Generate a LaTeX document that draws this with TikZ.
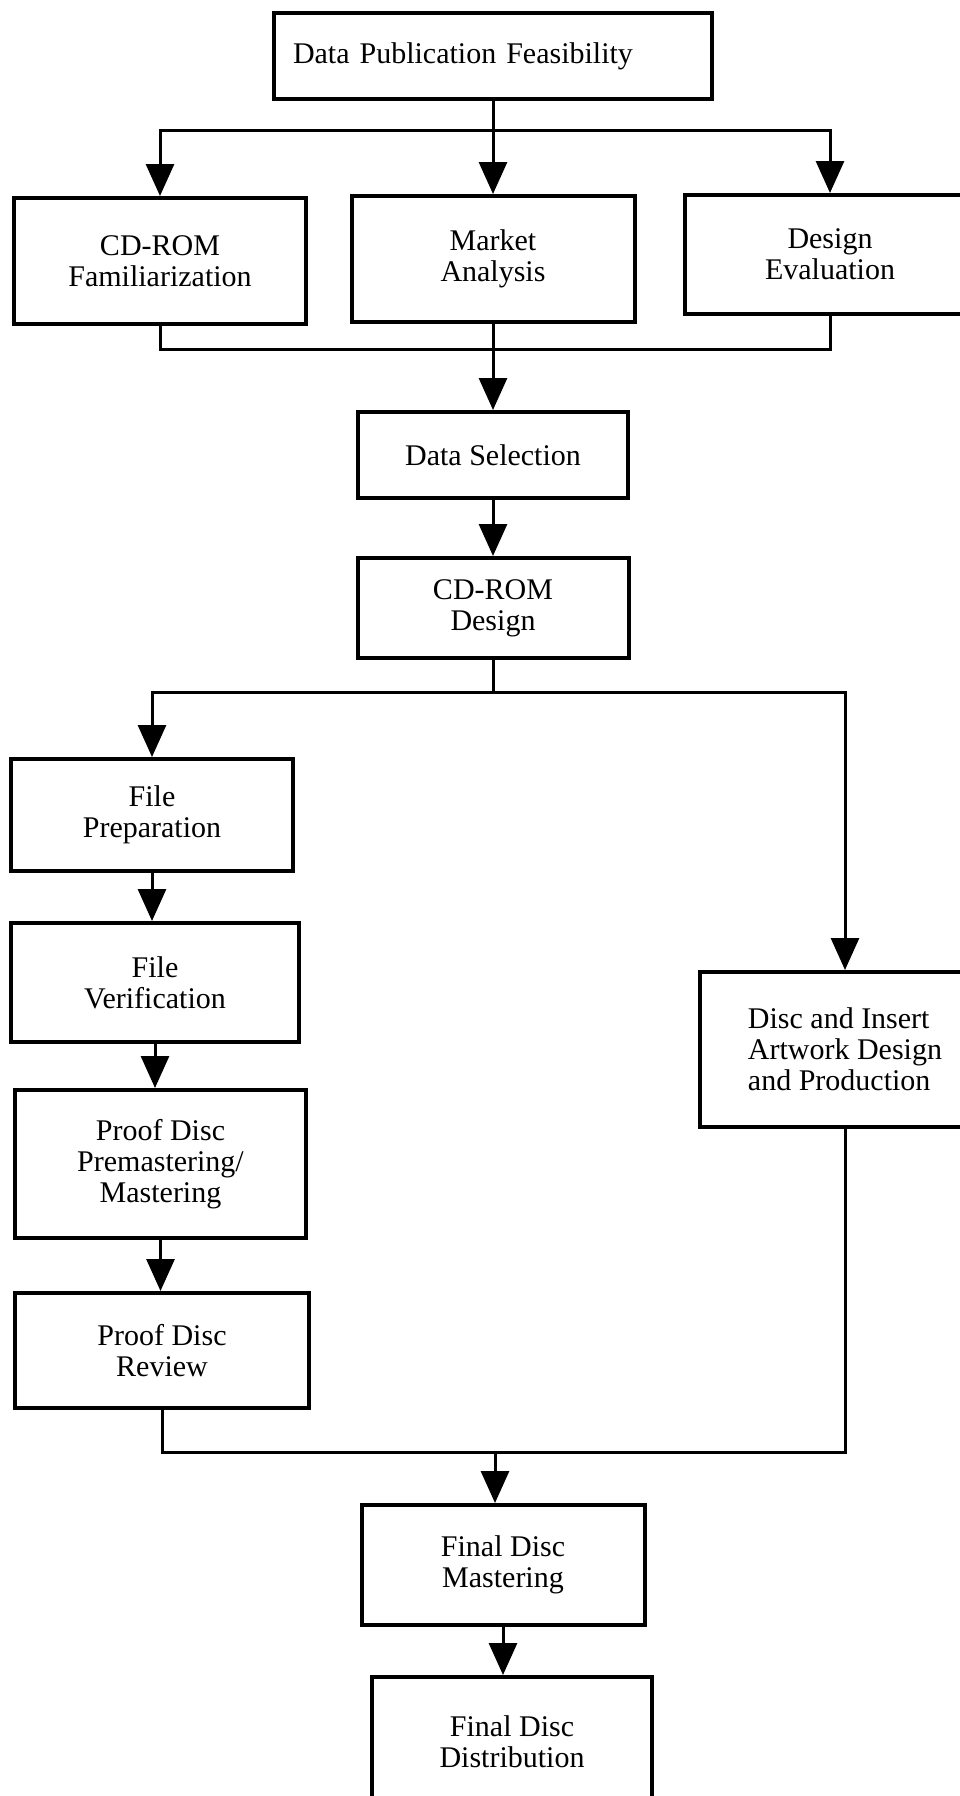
\documentclass[tikz,border=0pt]{standalone}
\usepackage{fontspec}
\setmainfont{Liberation Serif}
\usetikzlibrary{arrows.meta}
\begin{document}
\begin{tikzpicture}[x=1pt,y=-1pt,
  box/.style={draw=black, line width=4pt, fill=white, align=center, inner sep=6pt,
    font=\fontsize{30}{31}\selectfont},
  conn/.style={draw=black, line width=3pt},
  arr/.style={conn, -{Triangle[width=28pt,length=32pt]}}]
\useasboundingbox (0,0) rectangle (960,1796);
\fill[white] (0,0) rectangle (960,1796);

% nodes
\node[box, minimum width=438pt, minimum height=86pt, text width=400pt, align=left, inner xsep=19pt] (top) at (493,56) {Data Publication Feasibility};
\node[box, minimum width=292pt, minimum height=126pt] (fam) at (160,261) {CD-ROM\\Familiarization};
\node[box, minimum width=283pt, minimum height=126pt] (mkt) at (493,259) {Market\\Analysis};
\node[box, minimum width=290pt, minimum height=119pt] (des) at (830,254.5) {Design\\Evaluation};
\node[box, minimum width=270pt, minimum height=86pt] (sel) at (493,455) {Data Selection};
\node[box, minimum width=271pt, minimum height=100pt] (cdd) at (493,608) {CD-ROM\\Design};
\node[box, minimum width=282pt, minimum height=112pt] (prep) at (152,815) {File\\Preparation};
\node[box, minimum width=288pt, minimum height=119pt] (ver) at (155,982.5) {File\\Verification};
\node[box, minimum width=291pt, minimum height=148pt] (pm) at (160.5,1164) {Proof Disc\\Premastering/\\Mastering};
\node[box, minimum width=294pt, minimum height=115pt] (rev) at (162,1350.5) {Proof Disc\\Review};
\node[box, minimum width=290pt, minimum height=155pt, align=left] (art) at (845,1049.5) {Disc and Insert\\Artwork Design\\and Production};
\node[box, minimum width=283pt, minimum height=120pt] (fm) at (503,1565) {Final Disc\\Mastering};
\node[box, minimum width=280pt, minimum height=130pt] (fd) at (512,1742) {Final Disc\\Distribution};

% bus coordinates
\coordinate (bus1) at (493,130);
\coordinate (bus2) at (493,349);
\coordinate (bus3) at (493,692);
\coordinate (bus4) at (495,1452);

% connectors
\draw[conn] (top.south) -- (bus1);
\draw[arr] (bus1) -| (fam.north);
\draw[arr] (bus1) -| (des.north);
\draw[arr] (bus1) -- (mkt.north);

\draw[conn] (fam.south) |- (bus2) -| (des.south);
\draw[arr] (mkt.south) -- (sel.north);
\draw[arr] (sel.south) -- (cdd.north);

\draw[conn] (cdd.south) -- (bus3);
\draw[arr] (bus3) -| (prep.north);
\draw[arr] (bus3) -| (art.north);

\draw[arr] (prep.south) -- (prep.south |- ver.north);
\draw[arr] (ver.south) -- (ver.south |- pm.north);
\draw[arr] (pm.south) -- (pm.south |- rev.north);

\draw[conn] (rev.south) |- (bus4) -| (art.south);
\draw[arr] (bus4) -- (bus4 |- fm.north);
\draw[arr] (fm.south) -- (fm.south |- fd.north);
\end{tikzpicture}
\end{document}
